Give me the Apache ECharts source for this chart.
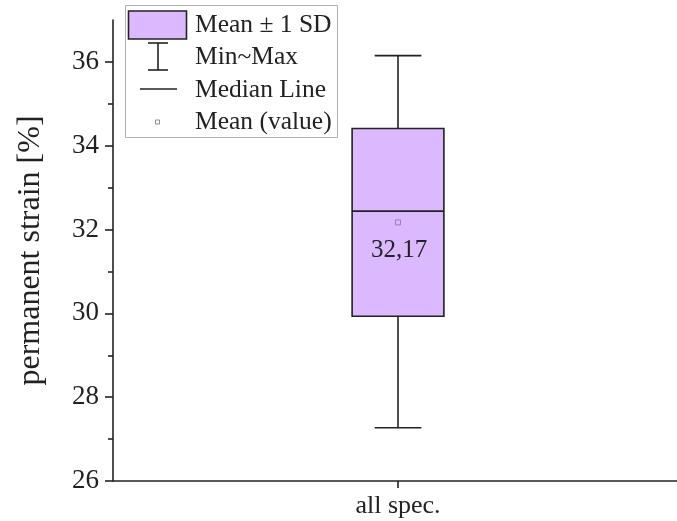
<!DOCTYPE html>
<html>
<head>
<meta charset="utf-8">
<script src="https://cdn.jsdelivr.net/npm/echarts@6/dist/echarts.min.js"></script>
<style>
  html, body { margin: 0; padding: 0; background: #fff; }
  #chart { width: 677px; height: 521px; }
</style>
</head>
<body>
<div id="chart"></div>
<script>
// Permanent strain summary for all specimens
const categories = ['all spec.'];
const meanValues = [32.17];
const sdValues = [2.24];
const medianValues = [32.44];
const minValues = [27.27];
const maxValues = [36.15];

const majorTicks = [26, 28, 30, 32, 34, 36];
const minorTicks = [27, 29, 31, 33, 35];

const legendLabels = ['Mean \u00B1 1 SD', 'Min~Max', 'Median Line', 'Mean (value)'];

const FONT = 'Liberation Serif';
const INK = '#222';
const BOX_FILL = '#dcb9ff';

const boxData = categories.map((c, i) => [i, meanValues[i], sdValues[i], medianValues[i], minValues[i], maxValues[i]]);

const chart = echarts.init(document.getElementById('chart'), null, { renderer: 'canvas' });

function renderBox(params, api) {
  const idx = api.value(0);
  const mean = api.value(1);
  const sd = api.value(2);
  const med = api.value(3);
  const lo = api.value(4);
  const hi = api.value(5);
  const band = api.size([1, 0])[0];
  const bw = band * 0.161;
  const cw = band * 0.082;
  const cx = api.coord([idx, mean])[0];
  const yMean = api.coord([idx, mean])[1];
  const yTop = api.coord([idx, mean + sd])[1];
  const yBot = api.coord([idx, mean - sd])[1];
  const yMed = api.coord([idx, med])[1];
  const yHi = api.coord([idx, hi])[1];
  const yLo = api.coord([idx, lo])[1];
  const lineStyle = { stroke: INK, lineWidth: 1.6, fill: null };
  return {
    type: 'group',
    children: [
      { type: 'line', shape: { x1: cx, y1: yHi, x2: cx, y2: yTop }, style: lineStyle },
      { type: 'line', shape: { x1: cx, y1: yBot, x2: cx, y2: yLo }, style: lineStyle },
      { type: 'line', shape: { x1: cx - cw / 2, y1: yHi, x2: cx + cw / 2, y2: yHi }, style: lineStyle },
      { type: 'line', shape: { x1: cx - cw / 2, y1: yLo, x2: cx + cw / 2, y2: yLo }, style: lineStyle },
      { type: 'rect', shape: { x: cx - bw / 2, y: yTop, width: bw, height: yBot - yTop },
        style: { fill: BOX_FILL, stroke: INK, lineWidth: 1.6 } },
      { type: 'line', shape: { x1: cx - bw / 2, y1: yMed, x2: cx + bw / 2, y2: yMed }, style: lineStyle },
      { type: 'rect', shape: { x: cx - 2.5, y: yMean - 2.5, width: 5, height: 5 },
        style: { fill: null, stroke: '#9a7fb0', lineWidth: 1 } },
      { type: 'text', x: cx + 1, y: yMean + 28,
        style: { text: mean.toFixed(2).replace('.', ','), font: '25px "' + FONT + '"',
                 fill: INK, align: 'center', verticalAlign: 'middle' } }
    ]
  };
}

// Legend drawn as graphic elements (box swatch, whisker, median line, mean marker)
const legendX = 195;
const rowY = [25, 57, 90, 122];
const legendGraphic = [
  { type: 'rect', left: 125, top: 5, shape: { x: 0, y: 0, width: 212, height: 132 },
    style: { fill: '#fff', stroke: '#b0b0b0', lineWidth: 1 } },
  { type: 'rect', shape: { x: 128.5, y: 11, width: 58, height: 28 },
    style: { fill: BOX_FILL, stroke: INK, lineWidth: 1.6 } },
  { type: 'line', shape: { x1: 158, y1: 43, x2: 158, y2: 70 }, style: { stroke: INK, lineWidth: 1.6 } },
  { type: 'line', shape: { x1: 148, y1: 43, x2: 168, y2: 43 }, style: { stroke: INK, lineWidth: 1.6 } },
  { type: 'line', shape: { x1: 148, y1: 70, x2: 168, y2: 70 }, style: { stroke: INK, lineWidth: 1.6 } },
  { type: 'line', shape: { x1: 140, y1: 89, x2: 177, y2: 89 }, style: { stroke: INK, lineWidth: 1.6 } },
  { type: 'rect', shape: { x: 155.5, y: 120, width: 4, height: 4 },
    style: { fill: null, stroke: '#9a7fb0', lineWidth: 1 } }
];
legendLabels.forEach((t, i) => {
  legendGraphic.push({
    type: 'text', x: legendX, y: rowY[i],
    style: { text: t, font: '25.5px "' + FONT + '"', fill: INK, align: 'left', verticalAlign: 'middle' }
  });
});

const option = {
  animation: false,
  backgroundColor: '#fff',
  grid: { left: 113, width: 570, top: 20, bottom: 40, containLabel: false, outerBoundsMode: 'none' },
  xAxis: {
    type: 'category',
    data: categories,
    boundaryGap: true,
    axisLine: { show: true, lineStyle: { color: INK, width: 1.6 } },
    axisTick: { show: true, alignWithLabel: true, length: 7, lineStyle: { color: INK, width: 1.6 } },
    axisLabel: { color: INK, fontFamily: FONT, fontSize: 26, margin: 12 },
    splitLine: { show: false }
  },
  yAxis: [
    {
      type: 'value',
      min: 26,
      max: 37,
      name: 'permanent strain [%]',
      nameLocation: 'middle',
      nameGap: 66,
      nameTextStyle: { color: INK, fontFamily: FONT, fontSize: 32 },
      axisLine: { show: true, lineStyle: { color: INK, width: 1.6 } },
      axisTick: { show: true, length: 8, customValues: majorTicks, lineStyle: { color: INK, width: 1.6 } },
      axisLabel: { color: INK, fontFamily: FONT, fontSize: 27, margin: 14, customValues: majorTicks },
      splitLine: { show: false }
    },
    {
      type: 'value',
      min: 26,
      max: 37,
      position: 'left',
      axisLine: { show: false },
      axisTick: { show: true, length: 5, customValues: minorTicks, lineStyle: { color: INK, width: 1.6 } },
      axisLabel: { show: false },
      splitLine: { show: false }
    }
  ],
  series: [
    {
      type: 'custom',
      xAxisIndex: 0,
      yAxisIndex: 0,
      renderItem: renderBox,
      encode: { x: 0, y: [1, 4, 5] },
      data: boxData,
      clip: false,
      z: 3
    }
  ],
  graphic: legendGraphic
};

chart.setOption(option);
</script>
</body>
</html>
